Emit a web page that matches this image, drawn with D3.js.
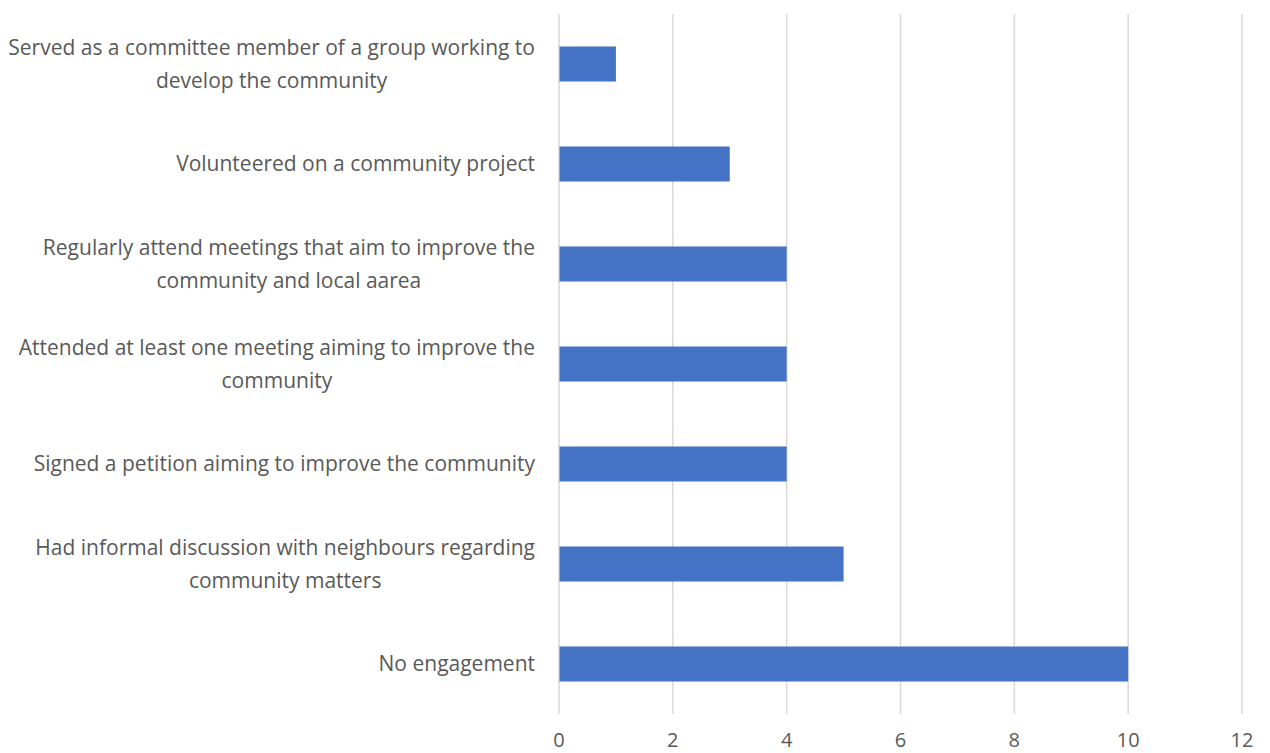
<!DOCTYPE html>
<html>
<head>
<meta charset="utf-8">
<script src="https://cdn.jsdelivr.net/npm/d3@7"></script>
<style>
  body { margin: 0; background: #fff; }
  text { font-family: "Open Sans", Lato, sans-serif; fill: #595959; }
</style>
</head>
<body>
<svg id="chart" width="1270" height="753"></svg>
<script>
// categories top to bottom, label lines as wrapped in the original
let categories = [
  "Served as a committee member of a group working to|develop the community",
  "Volunteered on a community project",
  "Regularly attend meetings that aim to improve the|community and local aarea",
  "Attended at least one meeting aiming to improve the|community",
  "Signed a petition aiming to improve the community",
  "Had informal discussion with neighbours regarding|community matters",
  "No engagement"
];
let values = [1, 3, 4, 4, 4, 5, 10];
let xTicks = [0, 2, 4, 6, 8, 10, 12];

let svg = d3.select("#chart");
let plotLeft = 559, plotRight = 1242, plotTop = 14, plotBottom = 714;

let x = d3.scaleLinear().domain([0, 12]).range([plotLeft, plotRight]);
let y = d3.scaleBand().domain(categories).range([plotTop, plotBottom]).paddingInner(0.65).paddingOuter(0.325);

// gridlines
svg.append("g").selectAll("line").data(xTicks).enter().append("line")
  .attr("x1", d => x(d)).attr("x2", d => x(d))
  .attr("y1", plotTop).attr("y2", plotBottom)
  .attr("stroke", "#d9d9d9").attr("stroke-width", 1.5);

// bars
svg.append("g").selectAll("rect").data(categories).enter().append("rect")
  .attr("x", x(0) + 0.5)
  .attr("y", d => y(d))
  .attr("width", (d, i) => x(values[i]) - x(0) - 0.5)
  .attr("height", y.bandwidth())
  .attr("fill", "#4472c4");

// x tick labels
svg.append("g").selectAll("text").data(xTicks).enter().append("text")
  .attr("x", d => x(d)).attr("y", 747)
  .attr("text-anchor", "middle")
  .style("font-size", "20px")
  .text(d => d);

// category labels: block right aligned, lines centred inside block
let labelRight = 535;
let lineGap = 33;
let labels = svg.append("g");
categories.forEach(c => {
  let lines = c.split("|");
  let cy = y(c) + y.bandwidth() / 2;
  let g = labels.append("g");
  let texts = lines.map((t, i) => g.append("text")
    .attr("y", cy + (i - (lines.length - 1) / 2) * lineGap)
    .attr("dy", "0.35em")
    .attr("text-anchor", "middle")
    .style("font-size", "21px")
    .text(t));
  let w = d3.max(texts, t => t.node().getComputedTextLength());
  texts.forEach(t => t.attr("x", labelRight - w / 2));
});
</script>
</body>
</html>
